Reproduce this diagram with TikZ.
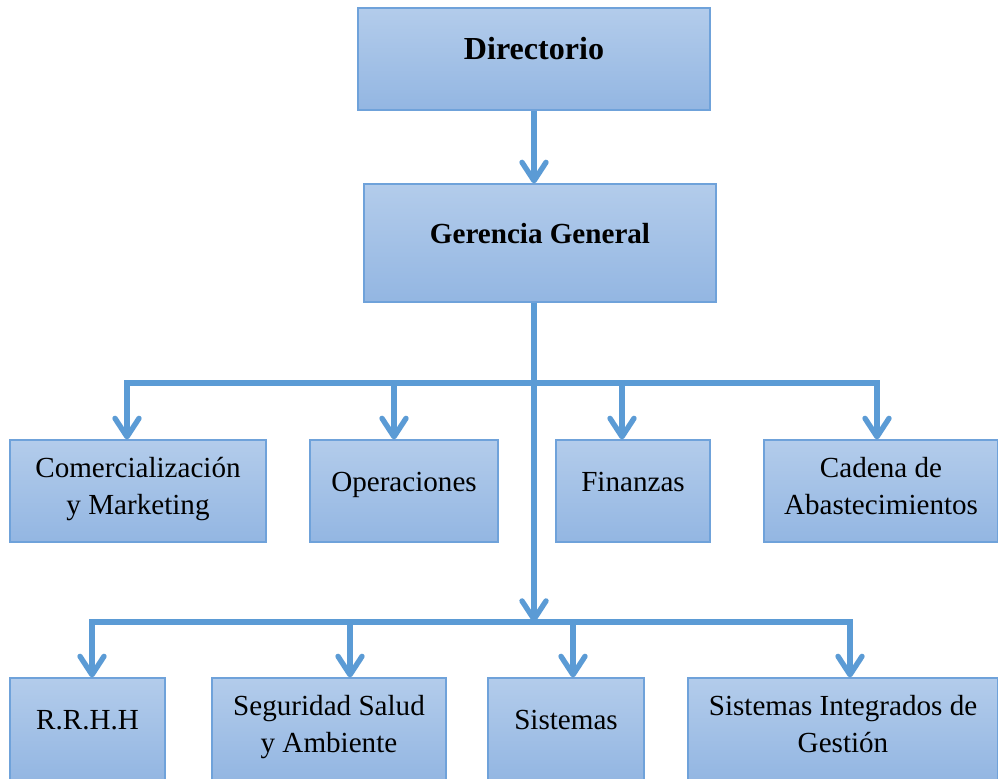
\documentclass[tikz,border=0pt]{standalone}
\usepackage{fontspec}
\setmainfont{Liberation Serif}
\usepackage{xcolor}
\usepackage{tikz}
\usetikzlibrary{arrows.meta,positioning}

\definecolor{boxtop}{HTML}{B3CCEB}
\definecolor{boxbot}{HTML}{93B6E2}
\definecolor{boxline}{HTML}{6FA2DA}
\definecolor{linkblue}{HTML}{5B9BD5}

\begin{document}
\begin{tikzpicture}[x=0.025cm, y=-0.025cm,
        block/.style={rectangle, draw=boxline, line width=0.8pt, top color=boxtop, bottom color=boxbot, align=center, inner sep=2pt, minimum height=2.55cm, font=\fontsize{20.7pt}{26.3pt}\selectfont},
        oneline/.style={text height=14pt, text depth=14pt},
        twoline/.style={text depth=7.8pt},
        line/.style={draw=linkblue, line width=3.8pt},
        arrow/.style={line, -{Straight Barb[length=0.46cm, width=0.6cm, round]}}
    ]
        \clip (0,0) rectangle (998,778);
        \fill[white] (0,0) rectangle (998,778);

        % Blocks
        \node[block, oneline, minimum width=8.8cm, font=\fontsize{22.8pt}{27pt}\selectfont\bfseries] (dir) at (534,59) {Directorio};
        \node[block, oneline, minimum width=8.8cm, minimum height=2.95cm, font=\fontsize{20.7pt}{26pt}\selectfont\bfseries] (ger) at (540,243) {Gerencia General};

        \node[block, twoline, minimum width=6.4cm] (com) at (138,491) {Comercialización\\y Marketing};
        \node[block, oneline, minimum width=4.7cm] (ope) at (404,491) {Operaciones};
        \node[block, oneline, minimum width=3.85cm] (fin) at (633,491) {Finanzas};
        \node[block, twoline, minimum width=5.85cm] (cad) at (881,491) {Cadena de\\Abastecimientos};

        \node[block, oneline, minimum width=3.875cm] (rrhh) at (87.5,729) {R.R.H.H};
        \node[block, twoline, minimum width=5.85cm] (seg) at (329,729) {Seguridad Salud\\y Ambiente};
        \node[block, oneline, minimum width=3.9cm] (sis) at (566,729) {Sistemas};
        \node[block, twoline, minimum width=7.75cm] (sig) at (843,729) {Sistemas Integrados de\\Gestión};

        % Bus points
        \coordinate (t1) at (534,383);
        \coordinate (t2) at (534,622);
        \coordinate (a1) at (127,383);
        \coordinate (a2) at (394,383);
        \coordinate (a3) at (622,383);
        \coordinate (a4) at (877,383);
        \coordinate (b1) at (92,622);
        \coordinate (b2) at (350,622);
        \coordinate (b3) at (573,622);
        \coordinate (b4) at (850,622);

        % Arrows
        \draw[arrow] (dir) -- (dir.south |- ger.north);
        \draw[arrow] (ger.south -| t1) -- (t2);
        \draw[line, line cap=rect] (a1) -- (a4);
        \draw[line, line cap=rect] (b1) -- (b4);
        \draw[arrow] (a1) -- (a1 |- com.north);
        \draw[arrow] (a2) -- (a2 |- ope.north);
        \draw[arrow] (a3) -- (a3 |- fin.north);
        \draw[arrow] (a4) -- (a4 |- cad.north);
        \draw[arrow] (b1) -- (b1 |- rrhh.north);
        \draw[arrow] (b2) -- (b2 |- seg.north);
        \draw[arrow] (b3) -- (b3 |- sis.north);
        \draw[arrow] (b4) -- (b4 |- sig.north);

    \end{tikzpicture}
\end{document}
